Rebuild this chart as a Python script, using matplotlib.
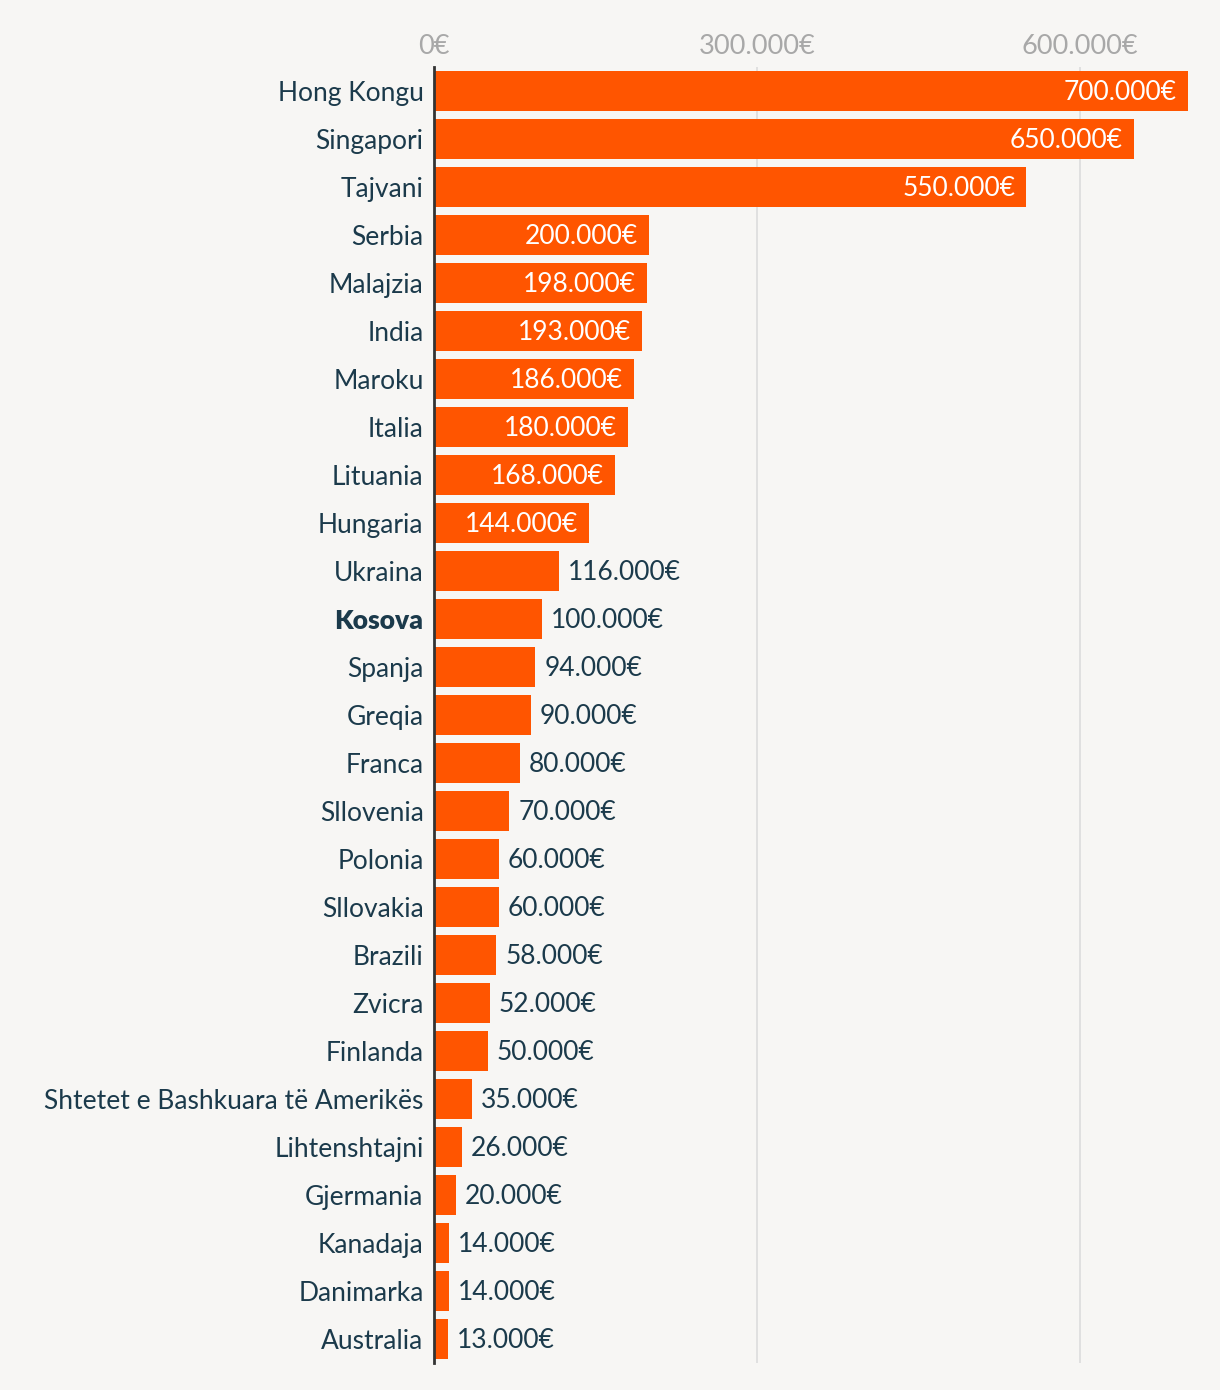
import matplotlib
matplotlib.use("Agg")
import matplotlib.pyplot as plt
from matplotlib.ticker import FuncFormatter

countries = ["Hong Kongu", "Singapori", "Tajvani", "Serbia", "Malajzia", "India", "Maroku",
             "Italia", "Lituania", "Hungaria", "Ukraina", "Kosova", "Spanja", "Greqia", "Franca",
             "Sllovenia", "Polonia", "Sllovakia", "Brazili", "Zvicra", "Finlanda",
             "Shtetet e Bashkuara të Amerikës", "Lihtenshtajni", "Gjermania", "Kanadaja",
             "Danimarka", "Australia"]
values = [700000, 650000, 550000, 200000, 198000, 193000, 186000, 180000, 168000, 144000,
          116000, 100000, 94000, 90000, 80000, 70000, 60000, 60000, 58000, 52000, 50000,
          35000, 26000, 20000, 14000, 14000, 13000]
xticks = [0, 300000, 600000]
highlight = "Kosova"

BG = "#f7f6f4"
BAR = "#ff5500"
TXT = "#1b3a4b"
GRID = "#dcdcdc"
TICK = "#a8a8a8"

plt.rcParams['font.family'] = ['Lato', 'DejaVu Sans']

def fmt(v):
    return f"{int(v):,}".replace(",", ".") + "€"

fig = plt.figure(figsize=(12.2, 13.9), dpi=100, facecolor=BG)
ax = fig.add_axes([434/1220, 1 - 1363/1390, (1188-434)/1220, (1363-67)/1390])
ax.set_facecolor(BG)

ys = list(range(len(countries)))
ax.barh(ys, values, height=0.83, color=BAR, zorder=3)
ax.set_xlim(0, 700000)
ax.set_ylim(len(countries) - 0.5, -0.5)

ax.set_xticks(xticks)
ax.xaxis.set_major_formatter(FuncFormatter(lambda v, p: fmt(v)))
ax.xaxis.tick_top()
ax.tick_params(axis='x', length=0, labelsize=19.5, labelcolor=TICK, pad=6)
ax.grid(axis='x', color=GRID, linewidth=1.2, zorder=0)

ax.set_yticks(ys)
ax.set_yticklabels(countries)
ax.tick_params(axis='y', length=0, labelsize=19, labelcolor=TXT, pad=7.5)
for lbl in ax.get_yticklabels():
    if lbl.get_text() == highlight:
        lbl.set_fontweight('heavy')

for s in ['top', 'right', 'bottom']:
    ax.spines[s].set_visible(False)
ax.spines['left'].set_color('#333333')
ax.spines['left'].set_linewidth(2)
ax.spines['left'].set_zorder(5)

for y, v in zip(ys, values):
    if v >= 140000:
        ax.annotate(fmt(v), (v, y), xytext=(-8, -1), textcoords='offset points',
                    ha='right', va='center', color='white', fontsize=19, zorder=4)
    else:
        ax.annotate(fmt(v), (v, y), xytext=(6.5, -1), textcoords='offset points',
                    ha='left', va='center', color=TXT, fontsize=19, zorder=4)

fig.savefig("out.png", dpi=100, facecolor=BG)
